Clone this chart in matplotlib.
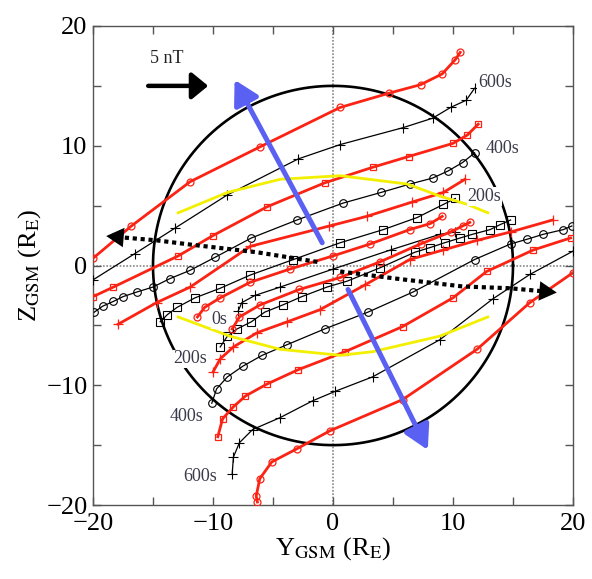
import matplotlib
matplotlib.use("Agg")
import matplotlib.pyplot as plt
from matplotlib.ticker import MultipleLocator
import numpy as np

plt.rcParams['font.family'] = ['Liberation Serif', 'DejaVu Serif']
plt.rcParams['mathtext.fontset'] = 'stix'

RED = '#fa2314'
BLUE = '#5a60f2'
YELLOW = '#f2f000'

# ---- field lines (Y, Z) in Earth radii ----
# upper group: end in the upper right
u600r_y = [-20.0, -16.8, -11.9, -6.1, 0.6, 4.7, 7.3, 9.1, 10.2, 10.6]
u600r_z = [0.6, 3.3, 7.0, 9.9, 13.2, 14.4, 15.1, 16.0, 17.2, 17.8]

u600b_y = [-20.0, -16.5, -13.2, -8.8, -2.9, 0.6, 5.8, 8.3, 9.8, 11.1, 11.8]
u600b_z = [-1.2, 1.0, 3.1, 5.9, 8.9, 10.1, 11.5, 12.3, 13.2, 13.8, 14.8]

u400r_y = [-20.0, -18.3, -12.9, -10.0, -5.5, -0.7, 3.3, 6.3, 10.0, 11.2, 12.1]
u400r_z = [-2.6, -1.8, 0.8, 2.5, 4.9, 6.9, 8.2, 9.1, 10.2, 10.9, 11.8]

u400b_y = [-19.9, -19.2, -18.3, -17.5, -16.3, -15.0, -13.6, -11.9, -9.8, -6.8,
           -3.0, 0.8, 4.0, 6.4, 8.3, 9.6, 10.8, 11.8]
u400b_z = [-3.9, -3.4, -3.0, -2.6, -2.2, -1.8, -1.1, -0.4, 0.7, 2.3,
           3.8, 5.2, 6.1, 6.8, 7.3, 7.9, 8.6, 9.4]

u200r_y = [-17.9, -14.7, -11.9, -6.9, -0.3, 2.8, 6.6, 9.2, 11.0]
u200r_z = [-4.9, -3.1, -1.8, 1.6, 3.3, 4.1, 5.3, 6.1, 7.2]

u200b_y = [-14.4, -13.8, -13.0, -11.5, -9.4, -6.9, -3.3, 0.6, 4.2, 7.0, 9.2, 10.2]
u200b_z = [-4.7, -4.1, -3.5, -2.7, -1.9, -0.8, 0.5, 1.9, 3.0, 4.0, 5.1, 5.6]

u0r_y = [-11.3, -10.7, -9.4, -6.9, -3.6, 0.0, 3.1, 6.4, 8.1, 9.1]
u0r_z = [-4.3, -3.5, -2.7, -1.4, -0.3, 0.8, 1.8, 3.0, 3.5, 4.1]

u0b_y = [-7.9, -7.6, -6.5, -4.4, 0.0, 4.8, 8.9, 10.2]
u0b_z = [-3.8, -3.1, -2.5, -1.8, -0.3, 1.3, 2.6, 2.8]

# lower group: start in the lower left
l0r_y = [-8.4, -7.8, -6.1, -2.8, 0.6, 3.9, 7.3, 9.8, 10.8, 11.4]
l0r_z = [-5.3, -4.3, -3.3, -2.0, -1.0, 0.3, 1.8, 2.8, 3.3, 3.6]

l200b_y = [-9.4, -8.8, -8.0, -6.8, -5.7, -4.2, -2.6, -0.5, 1.2, 3.9,
           6.8, 8.1, 9.3, 10.6, 11.6, 13.1, 13.9, 14.8]
l200b_z = [-6.8, -5.9, -5.3, -4.7, -3.9, -3.3, -2.6, -1.8, -1.3, -0.2,
           1.1, 1.5, 1.9, 2.3, 2.6, 3.0, 3.4, 3.8]

l200r_y = [-10.0, -9.4, -8.3, -6.3, -3.8, -1.1, 2.7, 6.4, 9.2, 12.0, 14.8, 18.3]
l200r_z = [-8.9, -7.8, -6.8, -5.6, -4.7, -3.7, -1.6, 0.5, 1.3, 2.1, 2.8, 3.8]

l400b_y = [-10.1, -9.7, -8.8, -7.5, -5.9, -3.8, -0.7, 2.9, 6.7, 11.8,
           14.8, 16.2, 17.5, 19.2, 19.9]
l400b_z = [-11.5, -10.3, -9.3, -8.4, -7.5, -6.6, -5.3, -3.9, -2.2, 0.5,
           1.8, 2.2, 2.6, 3.0, 3.3]

l400r_y = [-9.6, -9.2, -8.3, -7.3, -5.5, -2.9, 1.0, 5.8, 10.0, 12.8, 16.7, 19.8]
l400r_z = [-14.3, -12.8, -11.8, -10.9, -9.9, -8.7, -7.2, -5.1, -2.7, -0.5, 1.3, 2.3]

l600b_y = [-8.4, -8.3, -7.8, -6.7, -4.4, -1.7, 0.2, 3.3, 8.9, 13.3, 16.4, 20.0]
l600b_z = [-17.4, -16.0, -14.8, -13.7, -12.7, -11.3, -10.5, -9.3, -6.2, -2.8, -0.75, 1.2]

l600r_y = [-6.3, -6.4, -6.1, -5.1, -3.0, -0.25, 5.8, 12.0, 16.4, 20.0]
l600r_z = [-19.75, -19.25, -17.8, -16.4, -15.3, -13.8, -11.2, -7.0, -3.1, -0.6]

# yellow curves
yel_up_y = [-12.9, -8.8, -4.4, 0.6, 6.2, 8.9, 11.2, 12.9]
yel_up_z = [4.4, 6.1, 7.2, 7.5, 6.8, 5.8, 5.1, 4.4]
yel_lo_y = [-12.9, -8.6, -4.4, 0.6, 3.3, 8.9, 12.9]
yel_lo_z = [-4.3, -5.9, -7.0, -7.5, -7.2, -5.9, -4.3]

# dotted black arrows
dot_l_y = [-1.3, -6.3, -11.9, -14.7, -18.2]
dot_l_z = [0.3, 1.1, 1.75, 2.1, 2.4]
dot_r_y = [0.6, 5.3, 10.8, 14.75, 18.0]
dot_r_z = [-0.5, -1.1, -1.75, -1.9, -2.2]

# blue arrows (tail, tip)
blue_up = [(-0.9, 1.9), (-8.2, 15.5)]
blue_dn = [(1.25, -2.0), (7.9, -15.4)]

fig = plt.figure(figsize=(5.92, 5.79), dpi=100)
ax = fig.add_axes([93 / 592, 1 - 505 / 579, 480 / 592, 479 / 579])

ax.axhline(0, color='#888888', lw=1.2, ls=(0, (1, 1)), zorder=1)
ax.axvline(0, color='#888888', lw=1.2, ls=(0, (1, 1)), zorder=1)

theta = np.linspace(0, 2 * np.pi, 400)
ax.plot(15 * np.cos(theta), 15 * np.sin(theta), color='black', lw=1.9, zorder=2)

black_lines = [(u600b_y, u600b_z, '+'), (u400b_y, u400b_z, 'o'), (u200b_y, u200b_z, 's'),
               (u0b_y, u0b_z, '+'), (l200b_y, l200b_z, 's'), (l400b_y, l400b_z, 'o'),
               (l600b_y, l600b_z, '+')]
for yy, zz, m in black_lines:
    ax.plot(yy, zz, color='black', lw=0.9, marker=m, ms=5.5 if m != '+' else 7,
            mfc='none', mew=0.8, zorder=3)

red_lines = [(u600r_y, u600r_z, 'o'), (u400r_y, u400r_z, 's'), (u200r_y, u200r_z, '+'),
             (u0r_y, u0r_z, 'o'), (l0r_y, l0r_z, 'o'), (l200r_y, l200r_z, '+'),
             (l400r_y, l400r_z, 's'), (l600r_y, l600r_z, 'o')]
for yy, zz, m in red_lines:
    ax.plot(yy, zz, color=RED, lw=2.0, marker=m, ms=5 if m != '+' else 7,
            mfc='none', mew=0.9, zorder=4)

ax.plot(yel_up_y, yel_up_z, color=YELLOW, lw=2.0, zorder=5)
ax.plot(yel_lo_y, yel_lo_z, color=YELLOW, lw=2.0, zorder=5)

for yy, zz in [(dot_l_y, dot_l_z), (dot_r_y, dot_r_z)]:
    ax.plot(yy, zz, color='black', lw=3.0, ls=(0, (1, 0.9)), zorder=6)
    ax.annotate('', xy=(yy[-1] + (yy[-1] - yy[-2]) * 0.2, zz[-1] + (zz[-1] - zz[-2]) * 0.2),
                xytext=(yy[-2], zz[-2]),
                arrowprops=dict(arrowstyle='-|>,head_length=0.9,head_width=0.5',
                                color='black', lw=0, mutation_scale=14,
                                shrinkA=0, shrinkB=0), zorder=6)

for tail, tip in [blue_up, blue_dn]:
    ax.annotate('', xy=tip, xytext=tail,
                arrowprops=dict(arrowstyle='-|>,head_length=0.8,head_width=0.45',
                                color=BLUE, lw=3.6, mutation_scale=18,
                                shrinkA=0, shrinkB=0), zorder=7)

# 5 nT scale arrow
ax.annotate('', xy=(-10.4, 15.0), xytext=(-15.4, 15.0),
            arrowprops=dict(arrowstyle='-|>,head_length=0.55,head_width=0.45',
                            color='black', lw=3.2, mutation_scale=18,
                            shrinkA=0, shrinkB=0), zorder=7)
ax.text(-15.25, 17.3, '5 nT', fontsize=13, color='#222222', va='center', ha='left')

labels = [('600s', 12.1, 15.3), ('400s', 12.7, 9.8), ('200s', 11.2, 5.75),
          ('0s', -10.1, -4.5), ('200s', -13.3, -7.8), ('400s', -13.6, -12.6),
          ('600s', -12.5, -17.6)]
for txt, x, y in labels:
    ax.text(x, y, txt, fontsize=13, color='#3a3a4a', ha='left', va='center', zorder=8,
            bbox=dict(facecolor='white', edgecolor='none', pad=0.5))

ax.set_xlim(-20, 20)
ax.set_ylim(-20, 20)
ax.xaxis.set_major_locator(MultipleLocator(10))
ax.yaxis.set_major_locator(MultipleLocator(10))
ax.xaxis.set_minor_locator(MultipleLocator(5))
ax.yaxis.set_minor_locator(MultipleLocator(5))
ax.tick_params(which='both', direction='in', top=True, right=True, length=6,
               width=1, color='#555555')
ax.tick_params(axis='x', which='major', labelsize=19, pad=6)
ax.tick_params(axis='y', which='major', labelsize=19, pad=4)
for s in ax.spines.values():
    s.set_color('#555555')
    s.set_linewidth(1.0)

ax.set_xlabel(r'Y$_{\rm GSM}$ (R$_{\rm E}$)', fontsize=19, labelpad=0)
ax.set_ylabel(r'Z$_{\rm GSM}$ (R$_{\rm E}$)', fontsize=19, labelpad=2)

fig.savefig('out.png', dpi=100)
